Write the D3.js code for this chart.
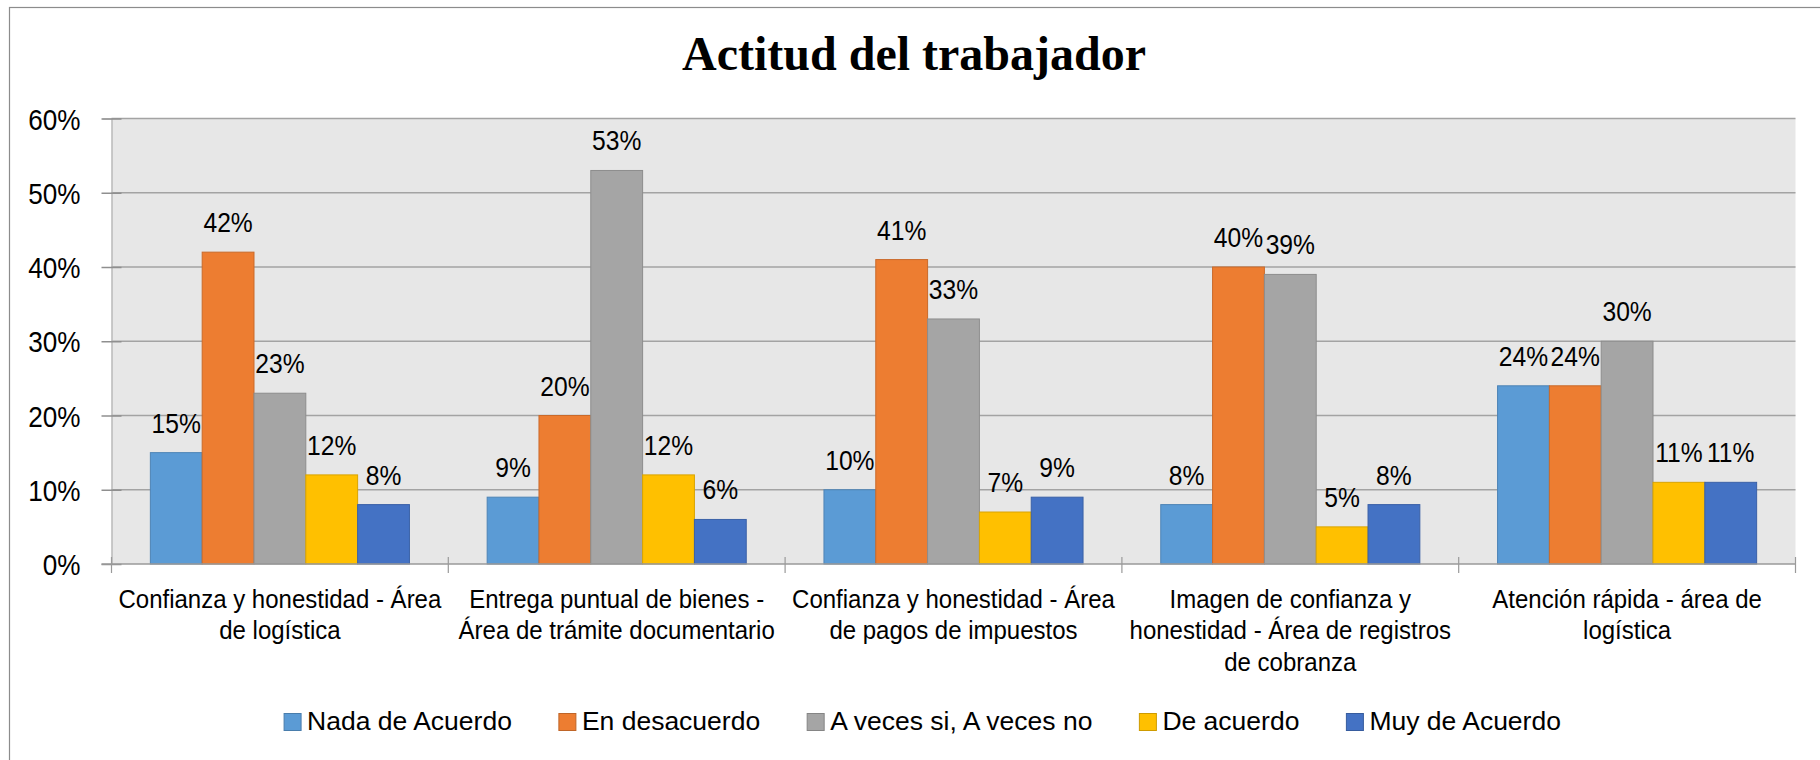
<!DOCTYPE html>
<html><head><meta charset="utf-8">
<script src="https://cdn.jsdelivr.net/npm/d3@7"></script>
<style>body{margin:0;background:#fff;overflow:hidden}</style>
</head><body>
<svg id="chart" width="1820" height="760"></svg>
<script>
// ---- data ----
const title = "Actitud del trabajador";
const categories = [
  "Confianza y honestidad - Área de logística",
  "Entrega puntual de bienes - Área de trámite documentario",
  "Confianza y honestidad - Área de pagos de impuestos",
  "Imagen de confianza y honestidad - Área de registros de cobranza",
  "Atención rápida - área de logística"
];
const categoryLines = [
  ["Confianza y honestidad - Área", "de logística"],
  ["Entrega puntual de bienes -", "Área de trámite documentario"],
  ["Confianza y honestidad - Área", "de pagos de impuestos"],
  ["Imagen de confianza y", "honestidad - Área de registros", "de cobranza"],
  ["Atención rápida - área de", "logística"]
];
const seriesNames = ["Nada de Acuerdo", "En desacuerdo", "A veces si, A veces no", "De acuerdo", "Muy de Acuerdo"];
const nadaDeAcuerdo   = [0.15, 0.09, 0.10, 0.08, 0.24];
const enDesacuerdo    = [0.42, 0.20, 0.41, 0.40, 0.24];
const aVeces          = [0.23, 0.53, 0.33, 0.39, 0.30];
const deAcuerdo       = [0.12, 0.12, 0.07, 0.05, 0.11];
const muyDeAcuerdo    = [0.08, 0.06, 0.09, 0.08, 0.11];
const yTicks = [0, 0.1, 0.2, 0.3, 0.4, 0.5, 0.6];
const seriesColors = ["#5B9BD5", "#ED7D31", "#A5A5A5", "#FFC000", "#4472C4"];

const seriesValues = [nadaDeAcuerdo, enDesacuerdo, aVeces, deAcuerdo, muyDeAcuerdo];
const series = seriesNames.map((name, i) => ({name, color: seriesColors[i], values: seriesValues[i]}));

// ---- layout ----
const svg = d3.select("#chart");
const sans = "'Liberation Sans', Arial, sans-serif";
const L = 111.5, R = 1795.5, T = 118.5, B = 564;

function squeeze(sel, k) {
  sel.each(function() {
    const len = this.getComputedTextLength();
    this.setAttribute("textLength", len * k);
    this.setAttribute("lengthAdjust", "spacingAndGlyphs");
  });
}

// outer border
svg.append("rect").attr("x", 9.5).attr("y", 7.5).attr("width", 1830).attr("height", 800)
  .attr("fill", "#fff").attr("stroke", "#8c8c8c").attr("stroke-width", 1.2);

// title
svg.append("text").attr("x", 914).attr("y", 70).attr("text-anchor", "middle")
  .attr("font-family", "'Liberation Serif', 'Times New Roman', serif")
  .attr("font-weight", "bold").attr("font-size", 48).attr("fill", "#000").text(title);

const x0 = d3.scaleBand().domain(categories).range([L, R]).paddingInner(0).paddingOuter(0);
const x1 = d3.scaleBand().domain(seriesNames).range([0, x0.bandwidth()]).paddingInner(0).paddingOuter(0.75);
const y = d3.scaleLinear().domain([0, 0.6]).range([B, T]);

// plot background
svg.append("rect").attr("x", L).attr("y", y(0.6)).attr("width", R - L).attr("height", y(0) - y(0.6))
  .attr("fill", "#e7e7e7");

// gridlines
svg.append("g").selectAll("line").data(yTicks.filter(d => d > 0)).join("line")
  .attr("x1", L).attr("x2", R).attr("y1", d => y(d)).attr("y2", d => y(d))
  .attr("stroke", "#a3a3a3").attr("stroke-width", 1.5);

// y axis
const yAxis = svg.append("g").attr("transform", `translate(${L},0)`)
  .call(d3.axisLeft(y).tickValues(yTicks).tickFormat(d3.format(".0%")).tickSize(9).tickPadding(22));
yAxis.select(".domain").attr("stroke", "#b0b0b0").attr("stroke-width", 1.2);
yAxis.selectAll(".tick line").attr("x1", -10).attr("x2", 10).attr("stroke", "#8f8f8f").attr("stroke-width", 1.5);
yAxis.selectAll(".tick text").attr("font-family", sans).attr("font-size", 30).attr("fill", "#000")
  .attr("dy", "0.35em").call(squeeze, 0.87);

// bars
const groups = svg.append("g").selectAll("g").data(series).join("g");
groups.selectAll("rect").data(s => s.values.map((v, i) => ({s, v, c: categories[i]}))).join("rect")
  .attr("x", d => x0(d.c) + x1(d.s.name))
  .attr("width", x1.bandwidth())
  .attr("y", d => y(d.v))
  .attr("height", d => y(0) - y(d.v))
  .attr("fill", d => d.s.color)
  .attr("stroke", d => d3.color(d.s.color).darker(0.45))
  .attr("stroke-width", 1);

// x axis line + ticks
svg.append("line").attr("x1", L - 10).attr("x2", R).attr("y1", B).attr("y2", B)
  .attr("stroke", "#9a9a9a").attr("stroke-width", 1.5);
const bounds = categories.map(c => x0(c)).concat([R]);
svg.append("g").selectAll("line").data(bounds).join("line")
  .attr("x1", d => d).attr("x2", d => d).attr("y1", B - 7).attr("y2", B + 9)
  .attr("stroke", "#9a9a9a").attr("stroke-width", 1.2);

// data labels
groups.selectAll("text").data(s => s.values.map((v, i) => ({s, v, c: categories[i]}))).join("text")
  .attr("x", d => x0(d.c) + x1(d.s.name) + x1.bandwidth() / 2)
  .attr("y", d => y(d.v) - 20)
  .attr("text-anchor", "middle")
  .attr("font-family", sans).attr("font-size", 28).attr("fill", "#000")
  .text(d => d3.format(".0%")(d.v))
  .call(squeeze, 0.88);

// category labels
categories.forEach((c, i) => {
  const cx = x0(c) + x0.bandwidth() / 2;
  categoryLines[i].forEach((line, j) => {
    svg.append("text").attr("x", cx).attr("y", 607.5 + j * 31.8)
      .attr("text-anchor", "middle").attr("font-family", sans).attr("font-size", 25)
      .attr("fill", "#000").text(line).call(squeeze, 0.96);
  });
});

// legend
const legend = svg.append("g");
const items = legend.selectAll("g").data(series).join("g");
items.append("rect").attr("width", 17).attr("height", 17).attr("y", 713.5)
  .attr("fill", d => d.color).attr("stroke", d => d3.color(d.color).darker(0.6)).attr("stroke-width", 1);
items.append("text").attr("x", 23).attr("y", 730).attr("font-family", sans).attr("font-size", 26.5)
  .attr("fill", "#000").text(d => d.name);
let widths = [];
items.each(function() { widths.push(this.getBBox().width); });
const gap = 47;
const total = d3.sum(widths) + gap * (widths.length - 1);
let cursor = 922.5 - total / 2;
items.attr("transform", (d, i) => { const t = `translate(${cursor},0)`; cursor += widths[i] + gap; return t; });
</script>
</body></html>
